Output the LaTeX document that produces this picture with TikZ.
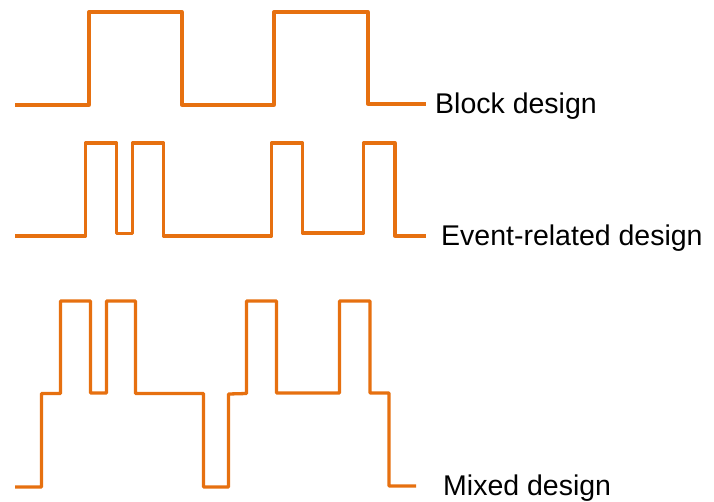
\documentclass[tikz,border=0pt]{standalone}
\usepackage{fontspec}
\setmainfont{Liberation Sans}
\definecolor{wave}{RGB}{230,112,16}
\begin{document}
\begin{tikzpicture}[x=1pt,y=-1pt,
  wavestyle/.style={draw=wave,line width=3.3pt,line join=round},
  lbl/.style={anchor=base west,inner sep=0pt,font=\fontsize{28.5}{32}\selectfont}]
\useasboundingbox (0,0) rectangle (714,501);
% Block design
\draw[wavestyle] (15,105) -- (89,105) -- (89,12) -- (182,12) -- (182,105) -- (274,105) -- (274,12) -- (368,12) -- (368,104) -- (426,104);
\node[lbl] (block) at (435,113) {Block design};
% Event-related design
\draw[wavestyle] (15,236) -- (85.5,236) -- (85.5,143) -- (116.5,143) -- (116.5,233.5) -- (132.5,233.5) -- (132.5,143) -- (163.5,143) -- (163.5,236) -- (271.5,236) -- (271.5,143) -- (302.5,143) -- (302.5,233) -- (363.5,233) -- (363.5,143) -- (395,143) -- (395,236) -- (426,236);
\node[lbl] (event) at (441,245) {Event-related design};
% Mixed design
\draw[wavestyle] (15,487) -- (41.5,487) -- (41.5,393.5) -- (60.5,393.5) -- (60.5,301) -- (90.5,301) -- (90.5,393) -- (106.5,393) -- (106.5,301) -- (135.5,301) -- (135.5,393.5) -- (203.5,393.5) -- (203.5,487) -- (228.5,487) -- (228.5,394) -- (246.5,393.5) -- (246.5,301) -- (276.5,301) -- (276.5,393) -- (339.5,393) -- (339.5,301) -- (370,301) -- (370,393) -- (389,393) -- (389,486) -- (416,486);
\node[lbl] (mixed) at (443,495) {Mixed design};
\end{tikzpicture}
\end{document}
